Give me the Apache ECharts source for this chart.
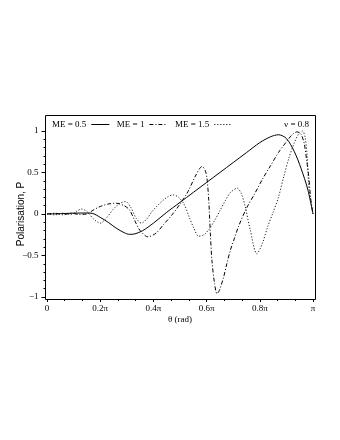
<!DOCTYPE html>
<html>
<head>
<meta charset="utf-8">
<script src="https://cdn.jsdelivr.net/npm/echarts@6/dist/echarts.min.js"></script>
<style>
  html, body { margin: 0; padding: 0; background: #fff; }
  #main { width: 340px; height: 440px; }
</style>
</head>
<body>
<div id="main"></div>
<script>
// theta is in units of pi
var theta05 = [0, 0.05, 0.1, 0.15, 0.17, 0.2, 0.23, 0.26, 0.29, 0.31, 0.33, 0.36, 0.4, 0.45, 0.5, 0.55, 0.6, 0.65, 0.7, 0.75, 0.8, 0.84, 0.87, 0.9, 0.93, 0.955, 0.98, 1];
var p05 = [0, 0.004, 0.01, 0.012, 0.008, -0.04, -0.1, -0.17, -0.225, -0.245, -0.24, -0.2, -0.11, 0.02, 0.14, 0.26, 0.38, 0.5, 0.62, 0.74, 0.86, 0.93, 0.955, 0.91, 0.75, 0.55, 0.3, 0];

var theta1 = [0, 0.03, 0.06, 0.09, 0.12, 0.15, 0.17, 0.2, 0.23, 0.26, 0.29, 0.31, 0.33, 0.35, 0.38, 0.41, 0.44, 0.47, 0.5, 0.53, 0.56, 0.583, 0.594, 0.601, 0.608, 0.614, 0.62, 0.63, 0.639, 0.648, 0.664, 0.676, 0.689, 0.705, 0.72, 0.75, 0.78, 0.81, 0.84, 0.87, 0.9, 0.92, 0.94, 0.955, 0.967, 0.976, 0.984, 0.991, 1];
var p1 = [0, 0.01, -0.01, 0.01, -0.005, 0, 0.04, 0.09, 0.12, 0.13, 0.1, 0.05, -0.08, -0.2, -0.275, -0.23, -0.12, -0.01, 0.12, 0.27, 0.47, 0.573, 0.53, 0.44, 0.17, -0.23, -0.56, -0.84, -0.96, -0.92, -0.76, -0.6, -0.44, -0.29, -0.15, 0.07, 0.24, 0.42, 0.58, 0.74, 0.87, 0.95, 0.99, 0.96, 0.85, 0.65, 0.45, 0.2, 0];

var theta15 = [0, 0.03, 0.06, 0.09, 0.11, 0.13, 0.15, 0.175, 0.2, 0.22, 0.25, 0.275, 0.295, 0.315, 0.335, 0.355, 0.375, 0.395, 0.415, 0.435, 0.455, 0.475, 0.495, 0.515, 0.535, 0.552, 0.57, 0.59, 0.61, 0.63, 0.65, 0.67, 0.69, 0.715, 0.73, 0.745, 0.764, 0.789, 0.81, 0.83, 0.85, 0.87, 0.89, 0.91, 0.93, 0.947, 0.96, 0.97, 0.978, 0.985, 1];
var p15 = [0, -0.01, 0.01, -0.005, 0.03, 0.06, 0.03, -0.06, -0.11, -0.06, 0.06, 0.13, 0.15, 0.08, -0.05, -0.11, -0.06, 0.03, 0.1, 0.16, 0.21, 0.23, 0.2, 0.12, -0.04, -0.17, -0.267, -0.25, -0.18, -0.08, 0.04, 0.16, 0.26, 0.31, 0.25, 0.09, -0.19, -0.48, -0.35, -0.15, 0.02, 0.2, 0.45, 0.68, 0.86, 0.97, 1.0, 0.93, 0.7, 0.3, 0];

var seriesNames = ['ME = 0.5', 'ME = 1', 'ME = 1.5'];

function pairs(xs, ys) {
  return xs.map(function (x, i) { return [x, ys[i]]; });
}

var serif = 'Liberation Serif';

var chart = echarts.init(document.getElementById('main'), null, { renderer: 'canvas' });

var option = {
  backgroundColor: '#fff',
  animation: false,
  grid: { left: 47, right: 27, top: 131, bottom: 143 },
  title: {
    text: 'ν = 0.8',
    right: 31, top: 120, padding: 0,
    textStyle: { fontFamily: serif, fontSize: 9, fontWeight: 'normal', color: '#000' }
  },
  legend: {
    left: 52, top: 120, padding: 0,
    align: 'right',
    itemWidth: 18, itemHeight: 10, itemGap: 7,
    itemStyle: { opacity: 0 },
    lineStyle: { width: 1 },
    textStyle: { fontFamily: serif, fontSize: 9, color: '#000' },
    data: seriesNames
  },
  xAxis: {
    type: 'value',
    min: 0, max: 1, interval: 0.2,
    offset: 2,
    name: 'θ (rad)',
    nameLocation: 'middle',
    nameGap: 16,
    nameMoveOverlap: false,
    nameTextStyle: { fontFamily: serif, fontSize: 9, color: '#000' },
    axisLine: { show: false, onZero: false },
    axisTick: { length: 3, lineStyle: { color: '#000' } },
    minorTick: { show: true, splitNumber: 3, length: 2, lineStyle: { color: '#000' } },
    splitLine: { show: false },
    axisLabel: {
      fontFamily: serif, fontSize: 9, color: '#000', margin: 5,
      formatter: function (v) {
        if (v === 0) return '0';
        if (Math.abs(v - 1) < 1e-9) return 'π';
        return v.toFixed(1) + 'π';
      }
    }
  },
  yAxis: {
    type: 'value',
    min: -1, max: 1, interval: 0.5,
    offset: 1.5,
    name: 'Polarisation, P',
    nameLocation: 'middle',
    nameGap: 19,
    nameMoveOverlap: false,
    nameTextStyle: { fontFamily: 'Liberation Sans', fontSize: 10, color: '#000' },
    axisLine: { show: false, onZero: false },
    axisTick: { length: 4, lineStyle: { color: '#000' } },
    minorTick: { show: true, splitNumber: 5, length: 2, lineStyle: { color: '#000' } },
    splitLine: { show: false },
    axisLabel: {
      fontFamily: serif, fontSize: 9, color: '#000', margin: 7,
      formatter: function (v) { return v < 0 ? '\u2212' + Math.abs(v) : String(v); }
    }
  },
  graphic: [{
    type: 'rect', silent: true, z: 10,
    shape: { x: 45.5, y: 115.5, width: 270, height: 184 },
    style: { fill: null, stroke: '#000', lineWidth: 1 }
  }],
  series: [{
    name: seriesNames[0], type: 'line', data: pairs(theta05, p05),
    symbol: 'none', smooth: 0.3, clip: false,
    itemStyle: { color: '#000' },
    lineStyle: { color: '#000', width: 1, type: 'solid' }
  }, {
    name: seriesNames[1], type: 'line', data: pairs(theta1, p1),
    symbol: 'none', smooth: 0.3, clip: false,
    itemStyle: { color: '#000' },
    lineStyle: { color: '#000', width: 1, type: [4, 2, 1, 2] }
  }, {
    name: seriesNames[2], type: 'line', data: pairs(theta15, p15),
    symbol: 'none', smooth: 0.3, clip: false,
    itemStyle: { color: '#222' },
    lineStyle: { color: '#222', width: 1, type: [1.2, 1.8] }
  }]
};

chart.setOption(option);
</script>
</body>
</html>
